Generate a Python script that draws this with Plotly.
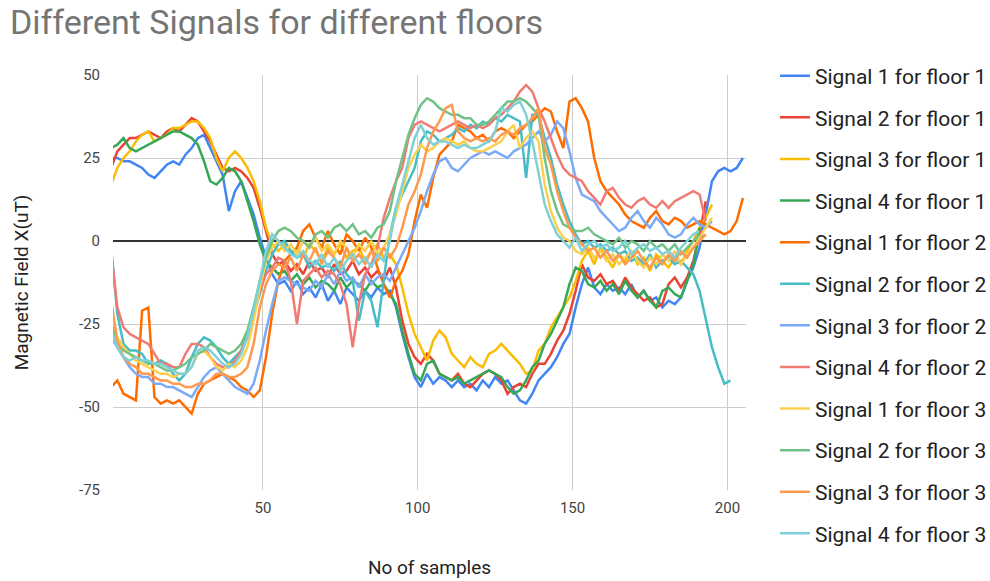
import plotly.graph_objects as go

# sample index (every second sample)
samples = list(range(1, 207, 2))

series_names = [
    "Signal 1 for floor 1", "Signal 2 for floor 1", "Signal 3 for floor 1", "Signal 4 for floor 1",
    "Signal 1 for floor 2", "Signal 2 for floor 2", "Signal 3 for floor 2", "Signal 4 for floor 2",
    "Signal 1 for floor 3", "Signal 2 for floor 3", "Signal 3 for floor 3", "Signal 4 for floor 3",
]

series_colors = [
    "#4285F4", "#EA4335", "#FBBC04", "#34A853",
    "#FF6D01", "#46BDC6", "#7BAAF7", "#F07B72",
    "#FCD04F", "#71C287", "#FF994D", "#7ED1D7",
]

s1_floor1 = [25, 25, 24, 24, 23, 22, 20, 19, 21, 23,
             24, 23, 26, 28, 31, 32, 28, 24, 20, 9,
             15, 18, 13, 8, 1, -5, -10, -13, -12, -15,
             -12, -16, -14, -17, -13, -18, -15, -19, -14, -16,
             -18, -15, -17, -14, -16, -15, -20, -28, -35, -41,
             -44, -40, -43, -41, -42, -44, -42, -44, -43, -45,
             -42, -44, -41, -43, -42, -45, -48, -49, -46, -42,
             -40, -38, -35, -31, -28, -20, -13, -8, -14, -16,
             -13, -15, -14, -16, -13, -17, -15, -18, -17, -20,
             -18, -19, -17, -12, -8, -2, 8, 18, 21, 22,
             21, 22, 25]

s2_floor1 = [22, 27, 29, 31, 31, 32, 33, 32, 31, 33,
             34, 33, 35, 37, 36, 33, 30, 26, 22, 21,
             22, 21, 19, 16, 10, 3, -4, -7, -6, -9,
             -7, -10, -6, -9, -8, -11, -7, -10, -9, -6,
             -10, -8, -11, -9, -12, -8, -14, -24, -31, -35,
             -37, -34, -36, -40, -41, -42, -40, -43, -44, -42,
             -40, -39, -40, -42, -46, -44, -43, -44, -40, -37,
             -37, -34, -30, -27, -22, -15, -7, -11, -12, -10,
             -13, -12, -15, -11, -14, -16, -18, -17, -20, -19,
             -13, -11, -14, -11, -6, 2, 12]

s3_floor1 = [17, 22, 25, 27, 30, 32, 33, 30, 31, 32,
             34, 34, 35, 36, 36, 34, 31, 25, 21, 25,
             27, 25, 22, 18, 12, 4, -1, -3, -1, -4,
             -2, -5, -1, -3, -6, -2, -4, -1, -5, -3,
             -2, -6, -3, -1, -5, -4, -7, -14, -22, -28,
             -32, -36, -30, -27, -29, -34, -36, -38, -35, -37,
             -38, -34, -33, -31, -33, -35, -37, -40, -39, -33,
             -31, -26, -23, -20, -17, -12, -6, -3, -7, -2,
             -5, -8, -4, -6, -3, -7, -5, -9, -4, -6,
             -8, -5, -7, -3, 0, 4, 7, 11]

s4_floor1 = [28, 29, 31, 28, 27, 28, 29, 30, 31, 32,
             33, 33, 32, 31, 29, 24, 18, 17, 19, 22,
             21, 18, 12, 6, -1, -6, -8, -10, -9, -12,
             -10, -13, -11, -14, -12, -13, -15, -11, -14, -12,
             -13, -15, -12, -14, -13, -16, -19, -27, -34, -40,
             -42, -37, -36, -40, -41, -42, -41, -43, -42, -41,
             -40, -39, -40, -41, -44, -46, -45, -42, -38, -36,
             -31, -28, -24, -20, -13, -8, -9, -13, -14, -12,
             -15, -13, -16, -12, -15, -17, -15, -18, -20, -15,
             -14, -16, -17, -12, -7, 4]

s1_floor2 = [-44, -42, -46, -47, -48, -21, -20, -47, -49, -48,
             -49, -48, -50, -52, -46, -43, -42, -41, -40, -41,
             -42, -44, -45, -47, -45, -35, -22, -12, -6, -4,
             -2, 3, 5, 1, -2, 3, -1, -4, 2, 0,
             -3, 1, -2, -8, -13, -17, -12, -9, -4, 6,
             14, 10, 19, 26, 28, 30, 35, 34, 33, 31,
             32, 30, 33, 34, 33, 31, 33, 35, 36, 38,
             40, 39, 33, 28, 42, 43, 40, 36, 25, 18,
             15, 13, 11, 8, 6, 5, 4, 7, 9, 6,
             5, 7, 6, 4, 5, 6, 5, 4, 3, 2,
             3, 6, 13]

s2_floor2 = [-2, -22, -31, -33, -33, -34, -37, -37, -36, -37,
             -40, -42, -40, -35, -31, -29, -30, -32, -35, -37,
             -35, -33, -28, -22, -16, -9, -4, -1, 0, -3,
             -5, -4, -8, -6, -8, -7, -9, -6, -10, -12,
             -24, -15, -18, -26, -12, 2, 10, 14, 18, 22,
             30, 33, 32, 30, 31, 32, 34, 33, 35, 34,
             36, 35, 37, 36, 38, 37, 36, 19, 38, 38,
             31, 25, 17, 11, 6, 2, -1, 0, -2, -1,
             -3, -2, -4, -3, -6, -5, -7, -4, -8, -6,
             -5, -7, -6, -8, -10, -15, -24, -32, -38, -43,
             -42]

s3_floor2 = [-29, -32, -35, -38, -40, -41, -41, -43, -43, -44,
             -44, -45, -46, -47, -44, -41, -39, -38, -40, -42,
             -44, -45, -46, -43, -36, -27, -19, -12, -11, -12,
             -13, -14, -15, -12, -14, -10, -13, -9, -12, -11,
             -14, -10, -13, -11, -10, -12, -8, -4, 0, 4,
             9, 15, 20, 24, 25, 22, 21, 23, 25, 26,
             27, 26, 27, 26, 25, 27, 28, 29, 31, 33,
             30, 32, 36, 34, 27, 19, 14, 13, 12, 9,
             7, 5, 3, 4, 7, 9, 6, 4, 7, 5,
             2, 1, 2, 5, 7, 5, 4, 6]

s4_floor2 = [-3, -20, -26, -28, -29, -30, -31, -34, -37, -37,
             -38, -38, -34, -31, -31, -32, -35, -37, -38, -38,
             -36, -33, -29, -22, -15, -10, -8, -5, -6, -12,
             -25, -12, -10, -8, -11, -9, -10, -13, -19, -32,
             -19, -10, -7, -2, 7, 13, 18, 22, 31, 35,
             36, 35, 34, 33, 34, 35, 36, 35, 34, 35,
             34, 35, 37, 38, 40, 42, 45, 47, 45, 40,
             36, 31, 26, 22, 20, 19, 18, 15, 13, 11,
             15, 16, 13, 11, 10, 12, 13, 11, 10, 12,
             10, 12, 13, 14, 15, 14, 6]

s1_floor3 = [-24, -29, -32, -34, -36, -37, -38, -39, -40, -40,
             -41, -40, -40, -38, -34, -33, -35, -38, -39, -37,
             -38, -36, -32, -24, -14, -6, -2, 0, -3, -1,
             -4, 0, -2, 1, -3, -1, -4, 0, -2, -5,
             -1, -3, 0, -4, -2, 2, 8, 15, 22, 26,
             29, 27, 28, 30, 31, 30, 29, 30, 28, 27,
             27, 28, 29, 30, 33, 35, 28, 31, 33, 30,
             17, 9, 4, 1, 0, -3, -4, -2, -5, -3,
             -6, -4, -7, -5, -3, -6, -8, -5, -7, -4,
             -6, -3, -7, -4, -2, 1, 4, 7]

s2_floor3 = [-25, -31, -33, -34, -35, -36, -37, -37, -38, -39,
             -39, -38, -37, -35, -34, -33, -31, -32, -33, -34,
             -33, -31, -27, -20, -12, -5, 0, 3, 4, 3,
             1, 0, -2, 2, 3, 1, 4, 5, 3, 5,
             2, 3, 1, 4, 5, 9, 18, 25, 32, 37,
             41, 43, 42, 40, 39, 38, 38, 37, 37, 35,
             35, 36, 38, 40, 42, 42, 43, 42, 40, 38,
             25, 15, 9, 5, 4, 3, 3, 4, 2, 1,
             0, -1, 1, -2, 0, -1, -3, 0, -2, -1,
             -3, -1, -4, -2, 0, 2]

s3_floor3 = [-18, -30, -35, -37, -38, -40, -40, -41, -42, -42,
             -43, -43, -44, -44, -43, -43, -42, -40, -40, -41,
             -41, -40, -38, -31, -20, -13, -9, -7, -8, -5,
             -9, -4, -6, -2, -7, -3, -5, -8, -2, -6,
             -4, -7, -3, -6, -2, -5, -2, 4, 11, 15,
             20, 28, 33, 36, 40, 41, 33, 31, 30, 31,
             30, 31, 30, 32, 33, 32, 34, 35, 37, 40,
             28, 23, 15, 9, 4, 1, -1, -3, -2, -5,
             -3, -6, -4, -7, -5, -3, -6, -8, -5, -7,
             -4, -6, -3, -5, -2, 0, 2]

s4_floor3 = [-27, -32, -35, -36, -35, -36, -36, -37, -37, -38,
             -39, -40, -40, -38, -33, -32, -33, -35, -37, -38,
             -37, -34, -29, -21, -12, -3, 2, 0, -2, -4,
             -5, -3, -6, -7, -4, -8, -5, -9, -6, -4,
             -7, -5, -8, -4, -6, 0, 10, 17, 24, 31,
             35, 31, 29, 30, 30, 29, 28, 29, 28, 28,
             29, 30, 33, 40, 39, 41, 42, 38, 30, 20,
             11, 6, 2, 0, -2, 1, -3, -1, 0, -2,
             -1, -3, -2, 0, -4, -2, -1, -3, -2, -4,
             -3, -5, -2, 0, 2, 3]

series_values = [
    s1_floor1, s2_floor1, s3_floor1, s4_floor1,
    s1_floor2, s2_floor2, s3_floor2, s4_floor2,
    s1_floor3, s2_floor3, s3_floor3, s4_floor3,
]

y_ticks = [-75, -50, -25, 0, 25, 50]
x_ticks = [50, 100, 150, 200]

fig = go.Figure()
for i, (name, color, vals) in enumerate(zip(series_names, series_colors, series_values)):
    fig.add_trace(go.Scatter(
        x=samples[:len(vals)], y=vals, mode="lines", name=name,
        legendgroup=f"g{i}",
        line=dict(color=color, width=2.5),
    ))

fig.update_layout(
    width=990, height=581,
    paper_bgcolor="white", plot_bgcolor="white",
    font=dict(family="Roboto, Arial, sans-serif", color="#222222"),
    title=dict(
        text="Different Signals for different floors",
        x=0.01, xref="container", xanchor="left",
        y=0.962, yref="container", yanchor="middle",
        font=dict(size=34, color="#757575", family="Roboto, Arial, sans-serif"),
    ),
    margin=dict(l=113, r=244, t=75, b=91, autoexpand=False),
    legend=dict(
        xref="container", x=0.7828, xanchor="left",
        yref="container", y=0.9043, yanchor="top",
        font=dict(size=21, color="#222222"),
        tracegroupgap=11.3,
        maxheight=600,
        bgcolor="rgba(0,0,0,0)",
    ),
    showlegend=True,
)

fig.update_xaxes(
    range=[1.6, 206], tickvals=x_ticks, ticktext=[str(v) for v in x_ticks],
    showgrid=True, gridcolor="#cccccc", gridwidth=1,
    zeroline=False, showline=False, ticks="",
    ticklabelstandoff=7,
    tickfont=dict(size=15, color="#444444"),
    title=dict(text="No of samples", font=dict(size=19, color="#222222"), standoff=44),
)
fig.update_yaxes(
    range=[-75, 50], tickvals=y_ticks, ticktext=[str(v) for v in y_ticks],
    showgrid=True, gridcolor="#cccccc", gridwidth=1,
    zeroline=True, zerolinecolor="#333333", zerolinewidth=1.5,
    showline=False, ticks="",
    ticklabelstandoff=12,
    tickfont=dict(size=15, color="#444444"),
    title=dict(text="Magnetic Field X(uT)", font=dict(size=19, color="#222222"), standoff=45),
)

fig.write_html("out.html")
